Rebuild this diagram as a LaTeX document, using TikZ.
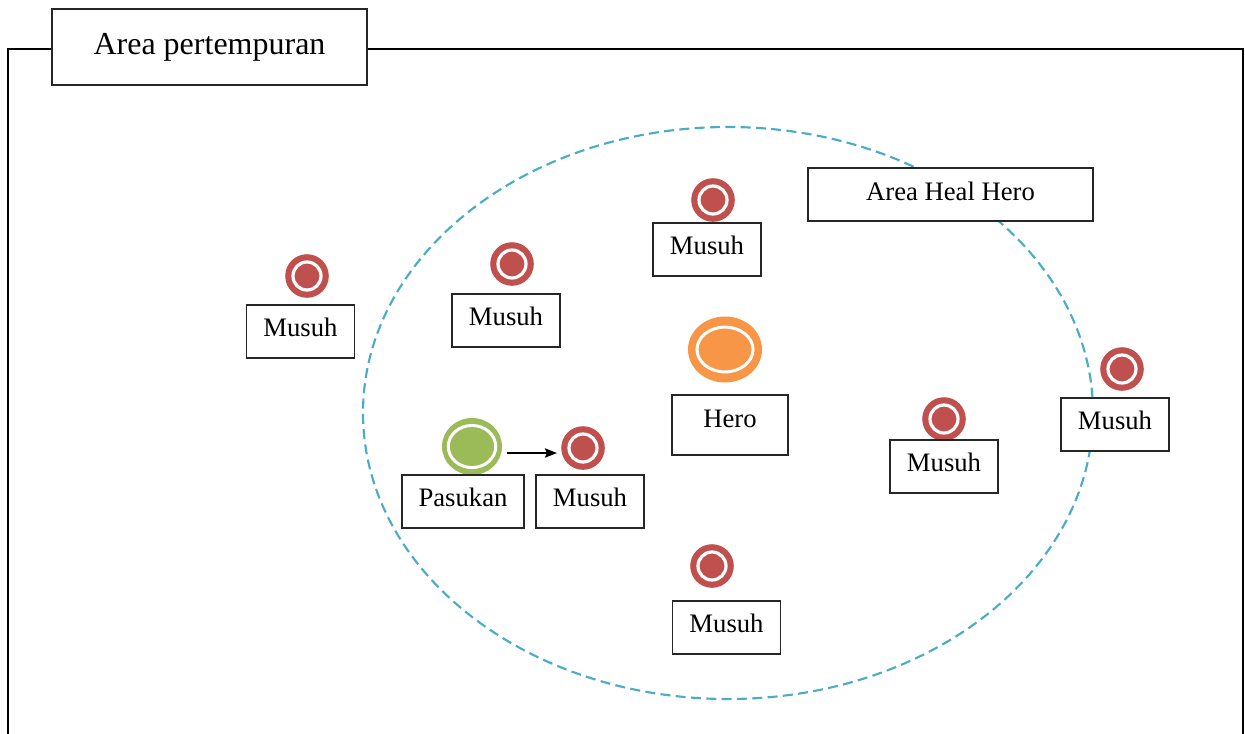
\documentclass[tikz,border=0pt]{standalone}
\usepackage{fontspec}
\setmainfont{Liberation Serif}
\usetikzlibrary{shapes.geometric,arrows.meta}
\definecolor{enemyred}{HTML}{C0504D}
\definecolor{troopgreen}{HTML}{9BBB59}
\definecolor{heroorange}{HTML}{F79646}
\definecolor{healblue}{HTML}{4BACC6}
\begin{document}
\begin{tikzpicture}[x=0.75pt,y=-0.75pt,
  frameline/.style={draw=black, line width=1.5pt},
  tbox/.style={draw=black!85, line width=1.1pt, fill=white, inner sep=0pt,
    font=\fontsize{20}{24}\selectfont, text height=13.2pt, text depth=5.2pt,
    minimum height=39.75pt},
  musuhbox/.style={tbox, minimum width=81pt},
  enemyicon/.style={circle, fill=enemyred, inner sep=0pt, minimum size=32.7pt,
    path picture={\draw[white, line width=2.4pt] (path picture bounding box.center) circle (10.5pt);}},
  troopicon/.style={ellipse, fill=troopgreen, inner sep=0pt, minimum width=45pt, minimum height=42.75pt,
    path picture={\draw[white, line width=2.25pt] (path picture bounding box.center) ellipse [x radius=17.8pt, y radius=15.8pt];}},
  heroicon/.style={ellipse, fill=heroorange, inner sep=0pt, minimum width=55.5pt, minimum height=49.5pt,
    path picture={\draw[white, line width=2.25pt] (path picture bounding box.center) ellipse [x radius=21pt, y radius=16.8pt];}},
  healline/.style={draw=healblue, line width=1.6pt, dash pattern=on 7.5pt off 4pt},
  arrowline/.style={draw=black, line width=1.2pt, -{Stealth[length=9pt, width=7pt, inset=1.5pt]}}
]
\useasboundingbox (0,0) rectangle (1245,733);

% battle area frame
\draw[frameline] (8,745) -- (8,49) -- (1243,49) -- (1243,745);

% heal area
\draw[healline] (728,413) ellipse [x radius=273.75pt, y radius=214.5pt];

% title
\node[tbox, line width=1.5pt, minimum width=236.25pt, minimum height=57pt,
  font=\fontsize{24}{28}\selectfont, text height=15.9pt, text depth=4.5pt]
  (title) at (209.5,47) {Area pertempuran};

% heal label
\node[tbox, minimum width=213.75pt, text depth=4.5pt] (heal) at (950.5,194.5) {Area Heal Hero};

% enemies
\node[enemyicon] (e1) at (307,276) {};
\node[musuhbox] (m1) at (300.5,331.5) {Musuh};
\node[enemyicon] (e2) at (512,264) {};
\node[musuhbox] (m2) at (506,320.5) {Musuh};
\node[enemyicon] (e3) at (713,200) {};
\node[musuhbox] (m3) at (707,249.5) {Musuh};
\node[enemyicon] (e4) at (583,448) {};
\node[musuhbox] (m4) at (590,501.5) {Musuh};
\node[enemyicon] (e5) at (944,419) {};
\node[musuhbox] (m5) at (944,466.5) {Musuh};
\node[enemyicon] (e6) at (1122,369) {};
\node[musuhbox] (m6) at (1115,424.5) {Musuh};
\node[enemyicon] (e7) at (712,566) {};
\node[musuhbox] (m7) at (726.5,627.5) {Musuh};

% troop
\node[troopicon] (troop) at (472,446.5) {};
\node[tbox, minimum width=91.5pt, text depth=6pt] (pasukan) at (463,501.5) {Pasukan};

% hero
\node[heroicon] (heroic) at (725,349.5) {};
\node[tbox, minimum width=87pt, minimum height=45pt, text depth=9pt] (hero) at (730,425) {Hero};

% troop attacks enemy
\draw[arrowline] ([shift={(5,6.5)}]troop.east) -- ([shift={(-4,5)}]e4.west);
\end{tikzpicture}
\end{document}
